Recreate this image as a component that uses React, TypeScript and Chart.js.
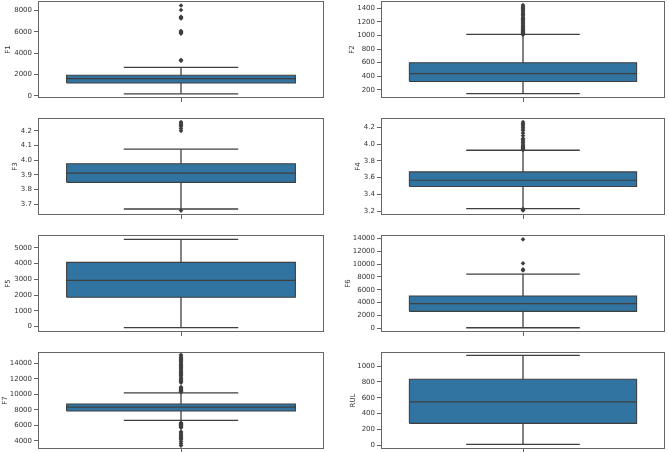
import React, { useEffect, useRef } from 'react';
import { Chart, registerables } from 'chart.js';

Chart.register(...registerables);

// ---- data: [lower whisker, Q1, median, Q3, upper whisker] ----
const PANEL_NAMES = ['F1', 'F2', 'F3', 'F4', 'F5', 'F6', 'F7', 'RUL'];

const F1_STATS = [186, 1209, 1612, 1922, 2667];
const F1_OUTLIERS = [3280, 3320, 3360, 5820, 5880, 5950, 6010, 6070, 7230, 7290, 7340, 7400, 8030, 8450];
const F1_TICKS = [0, 2000, 4000, 6000, 8000];
const F1_RANGE = [-200, 8870];

const F2_STATS = [142, 322, 438, 598, 1016];
const F2_OUTLIERS = [1012, 1020, 1028, 1036, 1045, 1055, 1066, 1078, 1092, 1105, 1120, 1136, 1150, 1168, 1185, 1200, 1218, 1236, 1252, 1270, 1290, 1308, 1325, 1345, 1362, 1380, 1398, 1415, 1432, 1449];
const F2_TICKS = [200, 400, 600, 800, 1000, 1200, 1400];
const F2_RANGE = [78, 1508];

const F3_STATS = [3.666, 3.848, 3.911, 3.975, 4.075];
const F3_OUTLIERS = [3.655, 4.2, 4.215, 4.228, 4.238, 4.246, 4.253, 4.26];
const F3_TICKS = [3.7, 3.8, 3.9, 4.0, 4.1, 4.2];
const F3_RANGE = [3.625, 4.288];

const F4_STATS = [3.232, 3.494, 3.569, 3.668, 3.926];
const F4_OUTLIERS = [3.21, 3.214, 3.219, 3.225, 3.93, 3.937, 3.945, 3.953, 3.962, 3.972, 3.985, 4.0, 4.02, 4.035, 4.05, 4.065, 4.1, 4.13, 4.16, 4.18, 4.2, 4.215, 4.23, 4.245, 4.263];
const F4_TICKS = [3.2, 3.4, 3.6, 3.8, 4.0, 4.2];
const F4_RANGE = [3.155, 4.31];

const F5_STATS = [-63, 1857, 2932, 4072, 5527];
const F5_OUTLIERS: number[] = [];
const F5_TICKS = [0, 1000, 2000, 3000, 4000, 5000];
const F5_RANGE = [-340, 5805];

const F6_STATS = [104, 2644, 3837, 5029, 8451];
const F6_OUTLIERS = [9020, 9176, 10110, 13843];
const F6_TICKS = [0, 2000, 4000, 6000, 8000, 10000, 12000, 14000];
const F6_RANGE = [-560, 14520];

const F7_STATS = [6641, 7853, 8372, 8762, 10190];
const F7_OUTLIERS = [
  10300, 10380, 10450, 10520, 10600, 10680, 10760, 10850, 10950, 11500, 11650, 11800, 11950, 12100,
  12250, 12400, 12550, 12700, 12850, 13000, 13150, 13300, 13450, 13600, 13750, 13900, 14050, 14200,
  14350, 14500, 14650, 14800, 14950, 15100,
  6350, 6270, 6200, 6130, 6060, 5990, 5920, 5850, 5780, 5700, 5200, 5050, 4900, 4750, 4600, 4450,
  4300, 4150, 3900, 3650, 3400,
];
const F7_TICKS = [4000, 6000, 8000, 10000, 12000, 14000];
const F7_RANGE = [2960, 15470];

const RUL_STATS = [8, 275, 547, 835, 1136];
const RUL_OUTLIERS: number[] = [];
const RUL_TICKS = [0, 200, 400, 600, 800, 1000];
const RUL_RANGE = [-50, 1180];

const STATS = [F1_STATS, F2_STATS, F3_STATS, F4_STATS, F5_STATS, F6_STATS, F7_STATS, RUL_STATS];
const OUTLIERS = [F1_OUTLIERS, F2_OUTLIERS, F3_OUTLIERS, F4_OUTLIERS, F5_OUTLIERS, F6_OUTLIERS, F7_OUTLIERS, RUL_OUTLIERS];
const TICKS = [F1_TICKS, F2_TICKS, F3_TICKS, F4_TICKS, F5_TICKS, F6_TICKS, F7_TICKS, RUL_TICKS];
const RANGES = [F1_RANGE, F2_RANGE, F3_RANGE, F4_RANGE, F5_RANGE, F6_RANGE, F7_RANGE, RUL_RANGE];
const DECIMALS = [0, 0, 1, 1, 0, 0, 0, 0];
const CATEGORY_POS = [0]; // single category at x = 0

// ---- layout / style ----
const BOX_HALF = 0.4;
const CAP_HALF = 0.2;
const BOX_FILL = '#3274a1';
const LINE = '#3f3f3f';
const SPINE = '#666666';
const TEXT = '#333333';
const FONT = { family: 'DejaVu Sans', size: 7 };

const ROW_TOPS = [1, 118, 235, 352];
const PLOT_H = 97;
const PAD_TOP = 10;
const PAD_BOTTOM = 6;
const XAXIS_H = 5;
const COLS = [
  { left: 0, width: 330, yAxisW: 38, padRight: 6 },
  { left: 344, width: 325, yAxisW: 37, padRight: 4 },
];
const TITLE_PADS = [3.8, 3.8, 10.8, 9.8, 3.8, 0, 0.8, 4.8];

const framePlugin = {
  id: 'frame',
  afterDraw(chart: any) {
    const { ctx, chartArea } = chart;
    ctx.save();
    ctx.strokeStyle = SPINE;
    ctx.lineWidth = 1;
    ctx.strokeRect(
      Math.round(chartArea.left) + 0.5,
      Math.round(chartArea.top) + 0.5,
      Math.round(chartArea.right - chartArea.left) - 1,
      Math.round(chartArea.bottom - chartArea.top) - 1
    );
    ctx.restore();
  },
};

function path(points: number[][], width: number, order: number) {
  return {
    type: 'line',
    data: points.map(([x, y]) => ({ x, y })),
    borderColor: LINE,
    borderWidth: width,
    pointRadius: 0,
    fill: false,
    tension: 0,
    order,
  };
}

function Panel({ idx }: { idx: number }) {
  const ref = useRef<HTMLCanvasElement>(null);
  const col = COLS[idx % 2];
  const row = Math.floor(idx / 2);
  const canvasTop = ROW_TOPS[row] - PAD_TOP;
  const canvasH = PAD_TOP + PLOT_H + XAXIS_H + PAD_BOTTOM;

  useEffect(() => {
    const [lo, q1, med, q3, hi] = STATS[idx];
    const c = CATEGORY_POS[0];
    const ticks = TICKS[idx];
    const dec = DECIMALS[idx];
    const chart = new Chart(ref.current as HTMLCanvasElement, {
      type: 'scatter',
      data: {
        datasets: [
          // box fill: Q3 edge filled down to Q1
          {
            type: 'line',
            data: [
              { x: c - BOX_HALF, y: q3 },
              { x: c + BOX_HALF, y: q3 },
            ],
            borderWidth: 0,
            borderColor: 'rgba(0,0,0,0)',
            backgroundColor: BOX_FILL,
            pointRadius: 0,
            fill: { value: q1 },
            order: 20,
          },
          // box outline
          path(
            [
              [c - BOX_HALF, q1],
              [c - BOX_HALF, q3],
              [c + BOX_HALF, q3],
              [c + BOX_HALF, q1],
              [c - BOX_HALF, q1],
            ],
            1.1,
            10
          ),
          path([[c - BOX_HALF, med], [c + BOX_HALF, med]], 1.2, 2),
          path([[c, lo], [c, q1]], 1.3, 2),
          path([[c, q3], [c, hi]], 1.3, 2),
          path([[c - CAP_HALF, lo], [c + CAP_HALF, lo]], 1.3, 2),
          path([[c - CAP_HALF, hi], [c + CAP_HALF, hi]], 1.3, 2),
          {
            type: 'scatter',
            data: OUTLIERS[idx].map((v) => ({ x: c, y: v })),
            pointStyle: 'rectRot',
            pointRadius: 2.3,
            backgroundColor: LINE,
            borderColor: LINE,
            borderWidth: 0,
            order: 0,
          },
        ] as any,
      },
      options: {
        animation: false,
        responsive: false,
        devicePixelRatio: 1,
        layout: { padding: { top: PAD_TOP, bottom: PAD_BOTTOM, left: 0, right: col.padRight } },
        plugins: { legend: { display: false }, tooltip: { enabled: false } },
        scales: {
          x: {
            type: 'linear',
            min: -0.5,
            max: 0.5,
            afterBuildTicks: (s: any) => {
              s.ticks = CATEGORY_POS.map((v) => ({ value: v }));
            },
            grid: {
              display: true,
              drawOnChartArea: false,
              drawTicks: true,
              tickLength: 4,
              color: SPINE,
            },
            border: { display: false },
            ticks: { display: false },
            afterFit: (s: any) => {
              s.height = XAXIS_H;
            },
          },
          y: {
            type: 'linear',
            min: RANGES[idx][0],
            max: RANGES[idx][1],
            afterBuildTicks: (s: any) => {
              s.ticks = ticks.map((v) => ({ value: v }));
            },
            ticks: {
              font: FONT,
              color: TEXT,
              padding: 2,
              callback: (v: any) => Number(v).toFixed(dec),
            },
            grid: {
              display: true,
              drawOnChartArea: false,
              drawTicks: true,
              tickLength: 4,
              color: SPINE,
            },
            border: { display: false },
            title: {
              display: true,
              text: PANEL_NAMES[idx],
              font: FONT,
              color: TEXT,
              padding: { top: TITLE_PADS[idx], bottom: 0 },
            },
            afterFit: (s: any) => {
              s.width = col.yAxisW;
            },
          },
        },
      } as any,
      plugins: [framePlugin],
    });
    return () => chart.destroy();
  }, [idx]);

  return (
    <canvas
      ref={ref}
      width={col.width}
      height={canvasH}
      style={{ position: 'absolute', left: col.left, top: canvasTop, width: col.width, height: canvasH }}
    />
  );
}

export default function App() {
  return (
    <div
      style={{
        position: 'absolute',
        left: 0,
        top: 0,
        width: 669,
        height: 452,
        overflow: 'hidden',
        background: '#ffffff',
      }}
    >
      {PANEL_NAMES.map((_, i) => (
        <Panel key={i} idx={i} />
      ))}
    </div>
  );
}
